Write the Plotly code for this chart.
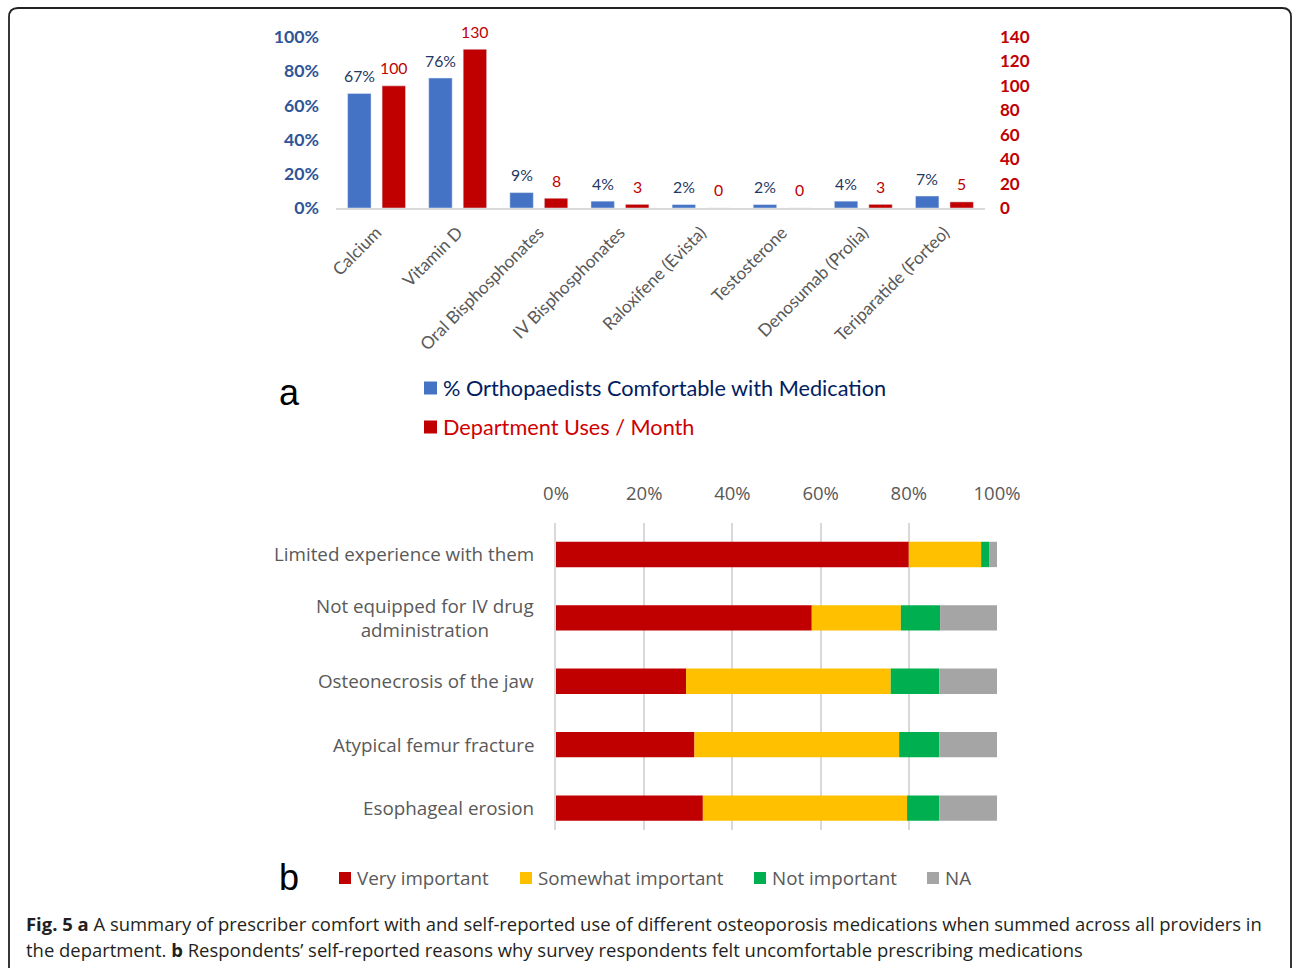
import numpy as np
import plotly.graph_objects as go

W, H = 1292, 968

# ---------- data: panel a ----------
meds = ["Calcium", "Vitamin D", "Oral Bisphosphonates", "IV Bisphosphonates",
        "Raloxifene (Evista)", "Testosterone", "Denosumab (Prolia)", "Teriparatide (Forteo)"]
pct_comfortable = [0.67, 0.76, 0.09, 0.04, 0.02, 0.02, 0.04, 0.07]
uses_per_month = [100, 130, 8, 3, 0, 0, 3, 5]
series_a = ["% Orthopaedists Comfortable with Medication", "Department Uses / Month"]

# ---------- data: panel b ----------
reasons = ["Limited experience with them", "Not equipped for IV drug<br>administration",
           "Osteonecrosis of the jaw", "Atypical femur fracture", "Esophageal erosion"]
very_important = [80.0, 58.0, 29.5, 31.4, 33.3]
somewhat_important = [16.4, 20.2, 46.4, 46.4, 46.3]
not_important = [1.8, 8.9, 11.0, 9.1, 7.3]
na = [1.8, 12.9, 13.1, 13.1, 13.1]
series_b = ["Very important", "Somewhat important", "Not important", "NA"]
pct_ticks = [0, 20, 40, 60, 80, 100]

caption_1 = ("<b>Fig. 5 a</b> A summary of prescriber comfort with and self-reported use of different "
             "osteoporosis medications when summed across all providers in")
caption_2 = ("the department. <b>b</b> Respondents\u2019 self-reported reasons why survey respondents "
             "felt uncomfortable prescribing medications")

BLUE, RED = "#4472C4", "#C00000"
NAVY = "#1F3864"
B_COLORS = ["#C00000", "#FFC000", "#00B050", "#A5A5A5"]
GRAY_TXT = "#595959"
FA = "Lato, sans-serif"
FB = "'Open Sans', sans-serif"
BARGAP = 0.15


def px(x):
    return x / W


def py(y):
    return 1 - y / H


fig = go.Figure()
fig.add_trace(go.Bar(
    x=meds, y=pct_comfortable, name=series_a[0], marker_color=BLUE,
    offsetgroup="1", xaxis="x", yaxis="y", showlegend=False))
fig.add_trace(go.Bar(
    x=meds, y=uses_per_month, name=series_a[1], marker_color=RED,
    offsetgroup="2", xaxis="x", yaxis="y2", showlegend=False))

# panel b stacked bars (manual stacking through base)
vals_b = np.array([very_important, somewhat_important, not_important, na])
bases = np.vstack([np.zeros(len(reasons)), np.cumsum(vals_b, axis=0)[:-1]])
for i, name in enumerate(series_b):
    fig.add_trace(go.Bar(
        y=reasons, x=vals_b[i], base=bases[i], orientation="h", name=name,
        marker=dict(color=B_COLORS[i], line=dict(width=0)),
        offsetgroup="b", width=0.4, offset=-0.2,
        xaxis="x3", yaxis="y3", showlegend=False))

fig.update_layout(
    width=W, height=H, margin=dict(l=0, r=0, t=0, b=0, pad=0, autoexpand=False),
    paper_bgcolor="white", plot_bgcolor="rgba(0,0,0,0)", showlegend=False,
    barmode="group", bargap=BARGAP, bargroupgap=0.32,
    xaxis=dict(domain=[px(336), px(985)], anchor="y", type="category", automargin=False,
               showline=True, linecolor="#D9D9D9", linewidth=1.5, ticks="",
               tickangle=-45, tickfont=dict(family=FA, size=17.3, color=GRAY_TXT),
               ticklabelstandoff=6, showgrid=False, fixedrange=True),
    yaxis=dict(domain=[py(208), py(37)], range=[0, 1], dtick=0.2, tickformat=".0%",
               automargin=False, showgrid=False, zeroline=False, showline=False,
               tickfont=dict(family=FA, size=17.7, color="#2F5597", weight="bold"),
               ticklabelstandoff=16),
    yaxis2=dict(overlaying="y", side="right", anchor="x", range=[0, 140], dtick=20,
                automargin=False, showgrid=False, zeroline=False, showline=False,
                tickfont=dict(family=FA, size=17, color=RED, weight="bold"),
                ticklabelstandoff=14),
    xaxis3=dict(domain=[px(556), px(997)], anchor="y3", side="top", range=[0, 100],
                automargin=False, tickvals=pct_ticks, ticktext=[f"{t}%" for t in pct_ticks],
                showgrid=True, gridcolor="#D9D9D9", gridwidth=1.5, zeroline=False,
                showline=False, ticks="",
                tickfont=dict(family=FB, size=18.5, color=GRAY_TXT), ticklabelstandoff=18),
    yaxis3=dict(domain=[py(830), py(523)], anchor="x3", type="category", automargin=False,
                range=[4.346, -0.496], showticklabels=False, showgrid=False,
                showline=True, linecolor="#D9D9D9", linewidth=2, zeroline=False),
)

ann = []
# data labels of panel a (placed on the bars' own axes)
half = (1 - BARGAP) / 4
for i, v in enumerate(pct_comfortable):
    ann.append(dict(x=i - half, y=v, xref="x", yref="y", text=f"{round(v*100)}%", showarrow=False,
                    xanchor="center", yanchor="middle", yshift=18,
                    font=dict(family=FA, size=15.8, color=NAVY)))
for i, v in enumerate(uses_per_month):
    ann.append(dict(x=i + half, y=v, xref="x", yref="y2", text=f"{v}", showarrow=False,
                    xanchor="center", yanchor="middle", yshift=18,
                    font=dict(family=FA, size=15.8, color=RED)))
# y labels of panel b
for r in reasons:
    ann.append(dict(x=px(536), y=r, xref="paper", yref="y3", text=r, showarrow=False,
                    xanchor="right", yanchor="middle", align="center",
                    font=dict(family=FB, size=18.8, color=GRAY_TXT)))
# panel letters
for letter, yc in [("a", 392), ("b", 877)]:
    ann.append(dict(x=px(289), y=py(yc), xref="paper", yref="paper", text=letter, showarrow=False,
                    xanchor="center", yanchor="middle",
                    font=dict(family="Liberation Sans, Arial, sans-serif", size=36, color="black")))
# legend a
shapes = []
leg_a = [(series_a[0], BLUE, "#002060", 388), (series_a[1], RED, "#D00000", 427)]
for name, sc, tc, yc in leg_a:
    shapes.append(dict(type="rect", xref="paper", yref="paper", x0=px(424), x1=px(437),
                       y0=py(yc + 6.5), y1=py(yc - 6.5), fillcolor=sc, line=dict(width=0)))
    ann.append(dict(x=px(441), y=py(yc), xref="paper", yref="paper", text=name, showarrow=False,
                    xanchor="left", yanchor="middle", font=dict(family=FA, size=21.7, color=tc)))
# legend b
leg_b_x = [339, 520, 754, 927]
for name, col, x0 in zip(series_b, B_COLORS, leg_b_x):
    shapes.append(dict(type="rect", xref="paper", yref="paper", x0=px(x0), x1=px(x0 + 12),
                       y0=py(884), y1=py(872), fillcolor=col, line=dict(width=0)))
    ann.append(dict(x=px(x0 + 16), y=py(878), xref="paper", yref="paper", text=name, showarrow=False,
                    xanchor="left", yanchor="middle", font=dict(family=FB, size=18.8, color=GRAY_TXT)))
# caption
for txt, yc in [(caption_1, 923), (caption_2, 949)]:
    ann.append(dict(x=px(24), y=py(yc), xref="paper", yref="paper", text=txt, showarrow=False,
                    xanchor="left", yanchor="middle", font=dict(family=FB, size=18.45, color="#231F20")))

# rounded frame
r = 9
path = (f"M {px(9)},{py(H + 20)} L {px(9)},{py(8 + r)} Q {px(9)},{py(8)} {px(9 + r)},{py(8)} "
        f"L {px(1291 - r)},{py(8)} Q {px(1291)},{py(8)} {px(1291)},{py(8 + r)} L {px(1291)},{py(H + 20)}")
shapes.append(dict(type="path", xref="paper", yref="paper", path=path,
                   line=dict(color="#222222", width=1.8)))

fig.update_layout(annotations=ann, shapes=shapes)
fig.write_html("out.html", config={"displayModeBar": False},
               post_script="document.body.style.margin='0';document.body.style.overflow='hidden';")
